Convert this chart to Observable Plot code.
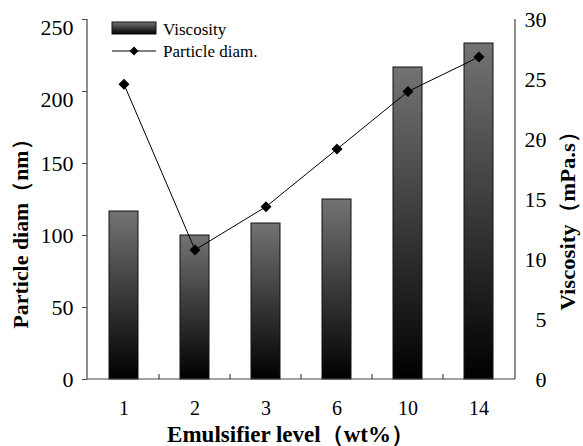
<!DOCTYPE html>
<html><head><meta charset="utf-8">
<script src="https://cdn.jsdelivr.net/npm/d3@7"></script>
<script src="https://cdn.jsdelivr.net/npm/@observablehq/plot@0.6"></script>
<style>body{margin:0;background:#fff} svg{display:block}</style>
</head><body><div id="chart"></div>
<script>
const levels = ["1", "2", "3", "6", "10", "14"];
const viscosity = [14, 12, 13, 15, 26, 28];          // mPa.s (right axis)
const particleDiam = [205, 90, 120, 160, 200, 224];  // nm (left axis)
const leftTicks = [0, 50, 100, 150, 200, 250];
const rightTicks = [0, 5, 10, 15, 20, 25, 30];
const leftTitle = "Particle diam（nm）";
const rightTitle = "Viscosity（mPa.s）";
const xTitle = "Emulsifier level（wt%）";

const k = 250 / 30; // map viscosity onto left-axis domain
const rows = levels.map((l, i) => ({level: l, visc: viscosity[i], diam: particleDiam[i]}));
const serif = "'Liberation Serif','Times New Roman',serif";

const plot = Plot.plot({
  width: 583, height: 446,
  marginLeft: 87, marginRight: 68, marginTop: 19, marginBottom: 67,
  style: {fontFamily: serif, color: "#000", background: "#fff", overflow: "visible"},
  x: {domain: levels, paddingInner: 0.59, paddingOuter: 0.295, label: null},
  y: {domain: [0, 250], label: null},
  marks: [
    Plot.barY(rows, {x: "level", y: d => d.visc * k, fill: "url(#barGrad)", stroke: "#111", strokeWidth: 1}),
    Plot.line(rows, {x: "level", y: "diam", stroke: "#000", strokeWidth: 1}),
    Plot.dot(rows, {x: "level", y: "diam", symbol: "diamond2", r: 4, fill: "#000", stroke: "#000"}),
    Plot.axisY(leftTicks, {anchor: "left", tickSize: 5, tickPadding: 9, fontSize: 22, label: null, stroke: "#444",
      tickFormat: d => (d >= 200 ? "" : String(d))}),
    Plot.axisY(leftTicks.filter(d => d >= 200), {anchor: "left", tickSize: 0, tickPadding: 14, dy: 8, fontSize: 22, label: null, stroke: "none"}),
    Plot.axisY(rightTicks.map(v => v * k), {anchor: "right", tickSize: 5, tickPadding: 5, textAnchor: "end", dx: 21,
      tickFormat: v => String(Math.round(v / k)), fontSize: 22, label: null, stroke: "#444"}),
    Plot.axisX({tickSize: 0, tickPadding: 21, fontSize: 20, label: null}),
    Plot.text([leftTitle], {text: d => d, frameAnchor: "left", textAnchor: "middle", lineAnchor: "middle", rotate: -90, dx: -67, dy: 29, fontSize: 22, fontWeight: "bold", fill: "#000"}),
    Plot.text([rightTitle], {text: d => d, frameAnchor: "right", textAnchor: "middle", lineAnchor: "middle", rotate: -90, dx: 52, dy: 16, fontSize: 22, fontWeight: "bold", fill: "#000"}),
    Plot.text([xTitle], {text: d => d, frameAnchor: "bottom", textAnchor: "middle", lineAnchor: "middle", dx: -11, dy: 55, fontSize: 23, fontWeight: "bold", fill: "#000"})
  ]
});

const svg = d3.select(plot);
svg.selectAll("text").filter(function() { return this.textContent === leftTitle; })
  .attr("textLength", 200).attr("lengthAdjust", "spacingAndGlyphs");
svg.selectAll("text").filter(function() { return this.textContent === rightTitle; })
  .attr("textLength", 190).attr("lengthAdjust", "spacingAndGlyphs");

const defs = svg.insert("defs", ":first-child");
const g = defs.append("linearGradient").attr("id", "barGrad").attr("x1", 0).attr("y1", 0).attr("x2", 0).attr("y2", 1);
g.append("stop").attr("offset", "0%").attr("stop-color", "#737373");
g.append("stop").attr("offset", "100%").attr("stop-color", "#000");

const xs = plot.scale("x"), ys = plot.scale("y");
const [x0, x1] = xs.range;
const [yb, yt] = ys.range;
const over = svg.append("g").attr("stroke", "#444").attr("stroke-width", 1.2);
over.append("line").attr("x1", x0).attr("x2", x0).attr("y1", yt).attr("y2", yb);
over.append("line").attr("x1", x1).attr("x2", x1).attr("y1", yt).attr("y2", yb);
over.append("line").attr("x1", x0).attr("x2", x1).attr("y1", yb).attr("y2", yb);
const gap = (xs.step - xs.bandwidth) / 2;
levels.slice(1).forEach(l => {
  const bx = xs.apply(l) - gap;
  over.append("line").attr("x1", bx).attr("x2", bx).attr("y1", yb).attr("y2", yb - 5);
});

// legend
const lg = svg.append("g").attr("font-family", serif).attr("font-size", 17).attr("text-anchor", "start").attr("fill", "#000");
lg.append("rect").attr("x", x0 + 25).attr("y", yt + 3).attr("width", 44).attr("height", 12)
  .attr("fill", "url(#barGrad)").attr("stroke", "#111");
lg.append("text").attr("x", x0 + 76).attr("y", yt + 10).attr("dy", "0.35em").text("Viscosity");
lg.append("line").attr("x1", x0 + 25).attr("x2", x0 + 69).attr("y1", yt + 32).attr("y2", yt + 32).attr("stroke", "#000");
lg.append("path").attr("d", d3.symbol(d3.symbolDiamond2, 50)()).attr("transform", `translate(${x0 + 47},${yt + 32})`).attr("fill", "#000");
lg.append("text").attr("x", x0 + 76).attr("y", yt + 32).attr("dy", "0.35em").text("Particle diam.");

document.getElementById("chart").append(plot);
</script>
</body></html>
